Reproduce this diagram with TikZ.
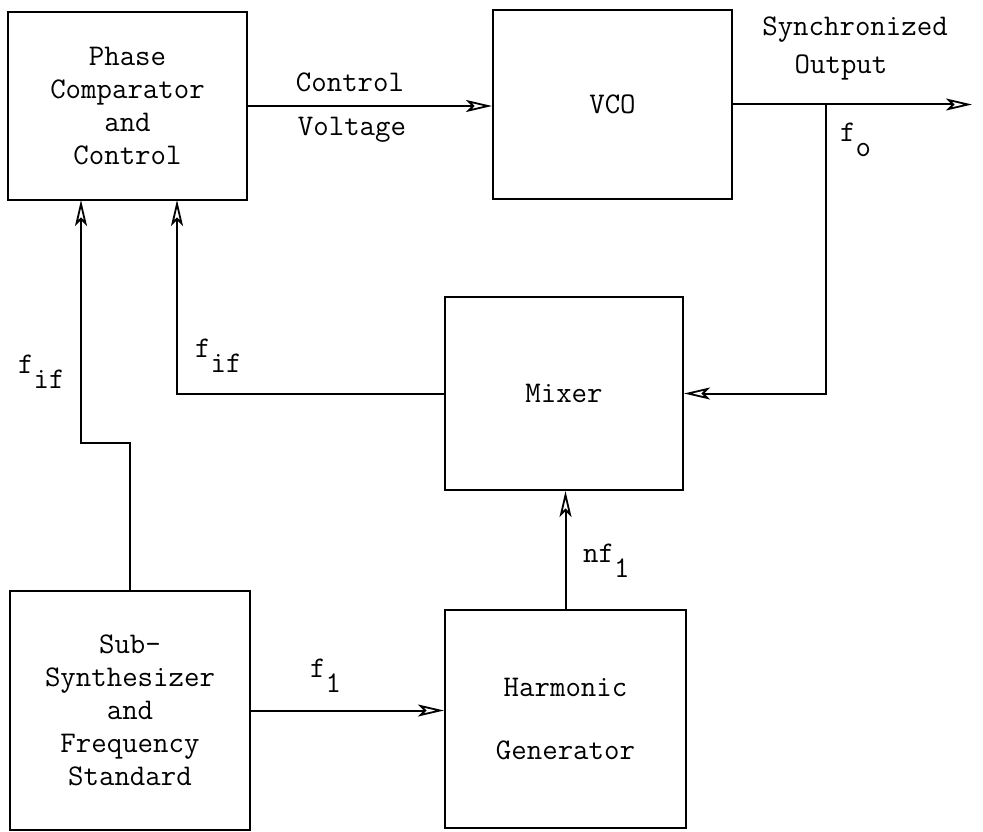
\documentclass[tikz,border=0pt]{standalone}
\usetikzlibrary{arrows.meta}
\begin{document}
\begin{tikzpicture}[x=1pt,y=-1pt,
  lbl/.style={font=\fontsize{30}{33}\selectfont\ttfamily, inner sep=0pt},
  box/.style={draw, line width=2pt, inner sep=0pt, align=center, font=\fontsize{30}{33}\selectfont\ttfamily},
  wire/.style={line width=2pt},
  arr/.style={wire, -{Stealth[open,length=26pt,width=12pt,inset=6pt,line width=1.8pt]}}]
\useasboundingbox (0,0) rectangle (983,832);
\newcommand{\sbs}[1]{\raisebox{-0.5em}{#1}}
% boxes
\node[box, minimum width=239pt, minimum height=188pt] (pc) at (127.5,106) {Phase\\Comparator\\and\\Control};
\node[box, minimum width=239pt, minimum height=189pt] (vco) at (612.5,104.5) {VCO};
\node[box, minimum width=238pt, minimum height=193pt] (mix) at (564,393.5) {Mixer};
\node[box, minimum width=240pt, minimum height=239pt] (sub) at (130,710.5) {Sub-\\Synthesizer\\and\\Frequency\\Standard};
\node[box, minimum width=241pt, minimum height=218pt] (har) at (565.5,719) {Harmonic\\[30pt]Generator};
% helper coordinates
\coordinate (out) at (972,104.5);
\coordinate (junc) at (826,104.5);
\coordinate (pcinA) at (81,200);
\coordinate (pcinB) at (177,200);
\coordinate (jog) at (81,443);
% connectors
\draw[arr] (pc.east) -- (pc.east -| vco.west);
\draw[arr] (vco.east) -- (out);
\draw[arr] (junc) |- (mix.east);
\draw[arr] (mix.west) -| (pcinB);
\draw[arr] (sub.north) |- (jog) -- (pcinA);
\draw[arr] (sub.east) -- (sub.east -| har.west);
\draw[arr] (har.north) -- (har.north |- mix.south);
% labels
\node[lbl] (cv1) at (350,82) {Control};
\node[lbl] (cv2) at (352,130) {Voltage};
\node[lbl] (so1) at (855,30) {Synchronized};
\node[lbl] (so2) at (841,67) {Output};
\node[lbl, anchor=west] (fo) at (840,140) {f\sbs{o}};
\node[lbl, anchor=west] (fif1) at (18,372) {f\sbs{if}};
\node[lbl, anchor=west] (fif2) at (195,356) {f\sbs{if}};
\node[lbl, anchor=west] (f1) at (310,676) {f\sbs{1}};
\node[lbl, anchor=west] (nf1) at (583,561) {nf\sbs{1}};
\end{tikzpicture}
\end{document}
